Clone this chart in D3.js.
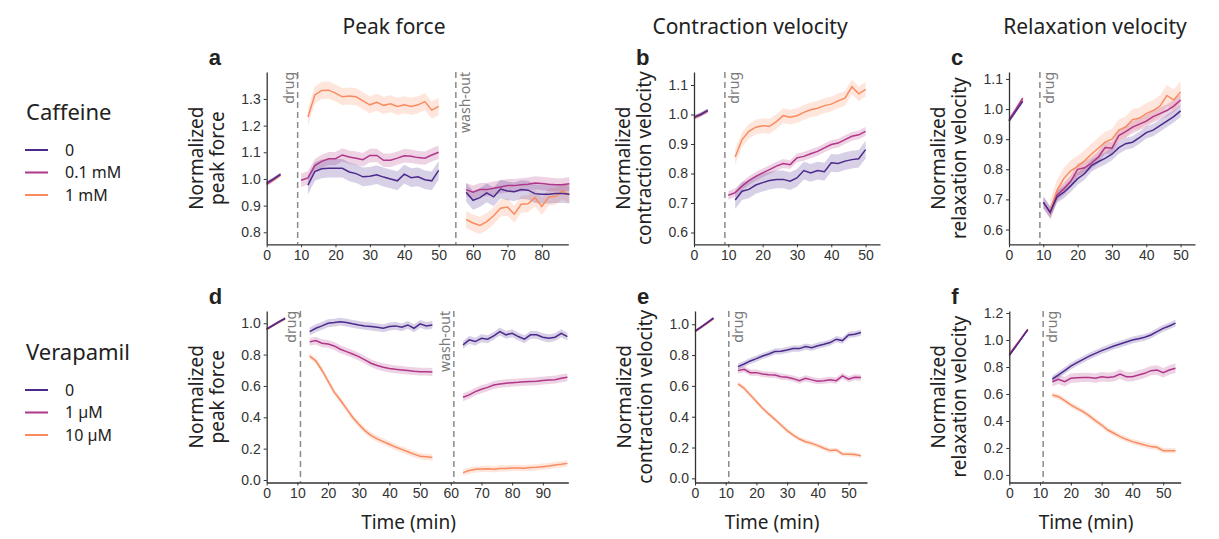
<!DOCTYPE html>
<html>
<head>
<meta charset="utf-8">
<script src="https://cdn.jsdelivr.net/npm/d3@7"></script>
<style>
    body { margin: 0; background: #fff; }
    text { fill: #222; }
</style>
</head>
<body>
<div id="chart"></div>
<script>
(function(d3) {
    'use strict';

    // series colours: 0, low dose, high dose
    var colors = ['#4b2a8c', '#b1368a', '#f98b60'];
    var cafLabels = ['0', '0.1 mM', '1 mM'];
    var verLabels = ['0', '1 µM', '10 µM'];

    // sample times (min)
    var cafBaseT = [0, 2, 4];
    var cafDrugT = [10, 12, 14, 16, 18, 20, 22, 24, 26, 28, 30, 32, 34, 36, 38, 40, 42, 44, 46, 48, 50];
    var cafWashT = [58, 60, 62, 64, 66, 68, 70, 72, 74, 76, 78, 80, 82, 84, 86, 88];
    var verBaseT = [0, 2, 4, 6];
    var verDrugT = [14, 16, 18, 20, 22, 24, 26, 28, 30, 32, 34, 36, 38, 40, 42, 44, 46, 48, 50, 52, 54];
    var verWashT = [64, 66, 68, 70, 72, 74, 76, 78, 80, 82, 84, 86, 88, 90, 92, 94, 96, 98];

    // a: peak force, caffeine   [0, 0.1 mM, 1 mM]
    var aBase = [
        [0.985, 1.0, 1.017],
        [0.98, 0.998, 1.016],
        [0.982, 0.996, 1.014]
    ];
    var aDrug = [
        [null, 0.977, 1.028, 1.038, 1.04, 1.04, 1.04, 1.026, 1.02, 1.008, 1.01, 1.016, 1.007, 1.0, 0.993, 1.018, 1.005, 1.008, 0.997, 0.993, 1.032],
        [0.995, 1.004, 1.05, 1.066, 1.076, 1.076, 1.09, 1.082, 1.078, 1.072, 1.088, 1.088, 1.07, 1.07, 1.078, 1.087, 1.085, 1.08, 1.078, 1.09, 1.1],
        [null, 1.232, 1.315, 1.332, 1.333, 1.322, 1.308, 1.311, 1.308, 1.293, 1.278, 1.287, 1.276, 1.282, 1.272, 1.278, 1.272, 1.278, 1.29, 1.258, 1.272]
    ];
    var aWash = [
        [0.95, 0.92, 0.93, 0.948, 0.933, 0.962, 0.955, 0.952, 0.96, 0.958, 0.945, 0.943, 0.943, 0.945, 0.945, 0.943],
        [0.96, 0.95, 0.96, 0.96, 0.965, 0.97, 0.975, 0.975, 0.978, 0.98, 0.985, 0.983, 0.98, 0.978, 0.978, 0.982],
        [0.848, 0.835, 0.826, 0.84, 0.862, 0.89, 0.895, 0.868, 0.905, 0.907, 0.93, 0.897, 0.932, 0.935, 0.955, 0.94]
    ];
    var aSem = [0.035, 0.025, 0.032];

    // b: contraction velocity, caffeine
    var bBase = [
        [0.99, 1.0, 1.014],
        [0.99, 1.001, 1.012],
        [0.988, 0.999, 1.012]
    ];
    var bDrug = [
        [null, 0.71, 0.74, 0.746, 0.761, 0.769, 0.776, 0.78, 0.78, 0.774, 0.785, 0.81, 0.802, 0.81, 0.806, 0.836, 0.834, 0.842, 0.847, 0.85, 0.881],
        [0.726, 0.735, 0.757, 0.776, 0.79, 0.802, 0.813, 0.825, 0.834, 0.83, 0.853, 0.858, 0.867, 0.875, 0.887, 0.898, 0.903, 0.915, 0.926, 0.931, 0.943],
        [null, 0.856, 0.915, 0.943, 0.957, 0.962, 0.96, 0.976, 0.996, 0.991, 0.996, 1.007, 1.016, 1.021, 1.03, 1.035, 1.046, 1.055, 1.094, 1.07, 1.085]
    ];
    var bSem = [0.03, 0.015, 0.025];

    // c: relaxation velocity, caffeine
    var cBase = [
        [0.96, 0.993, 1.026],
        [0.965, 1.0, 1.036],
        [0.962, 0.996, 1.03]
    ];
    var cDrug = [
        [0.69, 0.658, 0.708, 0.724, 0.745, 0.769, 0.785, 0.812, 0.825, 0.836, 0.85, 0.872, 0.885, 0.89, 0.905, 0.922, 0.93, 0.945, 0.96, 0.975, 0.994],
        [0.69, 0.655, 0.715, 0.735, 0.76, 0.8, 0.805, 0.82, 0.84, 0.872, 0.87, 0.912, 0.925, 0.94, 0.95, 0.96, 0.975, 0.985, 0.995, 1.01, 1.03],
        [null, 0.663, 0.73, 0.77, 0.795, 0.81, 0.828, 0.85, 0.87, 0.89, 0.9, 0.93, 0.94, 0.965, 0.97, 0.985, 0.995, 1.01, 1.045, 1.03, 1.057]
    ];
    var cSem = [0.02, 0.02, 0.035];

    // d: peak force, verapamil   [0, 1 µM, 10 µM]
    var dBase = [
        [0.962, 0.985, 1.008, 1.03],
        [0.964, 0.987, 1.01, 1.032],
        [0.96, 0.984, 1.006, 1.028]
    ];
    var dDrug = [
        [0.947, 0.968, 0.983, 1.0, 1.004, 1.01, 1.004, 0.996, 0.989, 0.983, 0.979, 0.974, 0.968, 0.979, 0.983, 0.974, 0.989, 0.968, 0.996, 0.983, 0.989],
        [0.881, 0.889, 0.872, 0.868, 0.855, 0.834, 0.819, 0.804, 0.787, 0.766, 0.745, 0.73, 0.719, 0.711, 0.706, 0.702, 0.698, 0.694, 0.691, 0.691, 0.689],
        [0.79, 0.76, 0.7, 0.63, 0.56, 0.51, 0.455, 0.4, 0.355, 0.315, 0.285, 0.262, 0.245, 0.228, 0.21, 0.195, 0.18, 0.165, 0.152, 0.148, 0.143]
    ];
    var dWash = [
        [0.862, 0.894, 0.883, 0.904, 0.898, 0.919, 0.947, 0.926, 0.936, 0.915, 0.898, 0.926, 0.926, 0.911, 0.904, 0.911, 0.936, 0.915],
        [0.528, 0.543, 0.564, 0.579, 0.591, 0.606, 0.613, 0.617, 0.621, 0.623, 0.626, 0.628, 0.63, 0.634, 0.638, 0.64, 0.649, 0.655],
        [0.047, 0.06, 0.068, 0.07, 0.072, 0.068, 0.074, 0.074, 0.077, 0.077, 0.075, 0.079, 0.081, 0.085, 0.089, 0.096, 0.1, 0.106]
    ];
    var dSem = [0.025, 0.025, 0.02];

    // e: contraction velocity, verapamil
    var eBase = [
        [0.955, 0.982, 1.01, 1.04],
        [0.955, 0.983, 1.011, 1.04],
        [0.95, 0.978, 1.005, 1.035]
    ];
    var eDrug = [
        [0.725, 0.742, 0.762, 0.777, 0.794, 0.807, 0.823, 0.825, 0.833, 0.842, 0.842, 0.855, 0.848, 0.861, 0.87, 0.881, 0.903, 0.894, 0.931, 0.935, 0.946],
        [0.699, 0.708, 0.686, 0.686, 0.677, 0.673, 0.671, 0.66, 0.656, 0.647, 0.634, 0.649, 0.639, 0.63, 0.634, 0.639, 0.634, 0.665, 0.643, 0.656, 0.654],
        [0.613, 0.584, 0.541, 0.498, 0.455, 0.418, 0.383, 0.346, 0.31, 0.281, 0.255, 0.238, 0.227, 0.212, 0.195, 0.18, 0.184, 0.158, 0.156, 0.154, 0.147]
    ];
    var eSem = [0.02, 0.02, 0.015];

    // f: relaxation velocity, verapamil
    var fBase = [
        [0.885, 0.948, 1.012, 1.075],
        [0.89, 0.952, 1.015, 1.078],
        [0.9, 0.958, 1.018, 1.08]
    ];
    var fDrug = [
        [0.711, 0.741, 0.773, 0.807, 0.832, 0.857, 0.881, 0.901, 0.921, 0.938, 0.956, 0.97, 0.985, 1.0, 1.01, 1.02, 1.037, 1.062, 1.086, 1.104, 1.125],
        [0.691, 0.709, 0.691, 0.716, 0.721, 0.723, 0.723, 0.716, 0.728, 0.723, 0.728, 0.748, 0.728, 0.728, 0.741, 0.753, 0.773, 0.778, 0.758, 0.778, 0.79],
        [0.593, 0.58, 0.551, 0.519, 0.494, 0.469, 0.437, 0.402, 0.37, 0.333, 0.309, 0.284, 0.264, 0.247, 0.235, 0.222, 0.21, 0.205, 0.18, 0.18, 0.18]
    ];
    var fSem = [0.025, 0.035, 0.02];

    var baseSem = 0.007;

    var cafYTicks = [0.6, 0.7, 0.8, 0.9, 1.0, 1.1];
    var peakCafYTicks = [0.8, 0.9, 1.0, 1.1, 1.2, 1.3];
    var verYTicks = [0.0, 0.2, 0.4, 0.6, 0.8, 1.0];
    var relVerYTicks = [0.0, 0.2, 0.4, 0.6, 0.8, 1.0, 1.2];

    var panels = [
        { letter: 'a', left: 266.7, right: 568.3, top: 72, bottom: 244.3, xMax: 87.7, yDomain: [0.755, 1.401],
          yTicks: peakCafYTicks, xTicks: [0, 10, 20, 30, 40, 50, 60, 70, 80], title: 'peak force',
          segments: [[cafBaseT, aBase, baseSem], [cafDrugT, aDrug, aSem], [cafWashT, aWash, aSem]],
          marks: [{ t: 9, label: 'drug', side: 'left' }, { t: 55, label: 'wash-out', side: 'right' }] },
        { letter: 'b', left: 694, right: 880, top: 72, bottom: 244.3, xMax: 54.2, yDomain: [0.56, 1.144],
          yTicks: cafYTicks, xTicks: [0, 10, 20, 30, 40, 50], title: 'contraction velocity',
          segments: [[cafBaseT, bBase, baseSem], [cafDrugT, bDrug, bSem]],
          marks: [{ t: 9, label: 'drug', side: 'right' }] },
        { letter: 'c', left: 1009, right: 1195, top: 72, bottom: 244.3, xMax: 54.2, yDomain: [0.551, 1.123],
          yTicks: cafYTicks, xTicks: [0, 10, 20, 30, 40, 50], title: 'relaxation velocity',
          segments: [[cafBaseT, cBase, baseSem], [cafDrugT, cDrug, cSem]],
          marks: [{ t: 9, label: 'drug', side: 'right' }] },
        { letter: 'd', left: 266.7, right: 568.3, top: 311, bottom: 482.5, xMax: 98.3, yDomain: [-0.016, 1.078],
          yTicks: verYTicks, xTicks: [0, 10, 20, 30, 40, 50, 60, 70, 80, 90], title: 'peak force', timeLabel: true,
          segments: [[verBaseT, dBase, baseSem], [verDrugT, dDrug, dSem], [verWashT, dWash, dSem]],
          marks: [{ t: 11, label: 'drug', side: 'left' }, { t: 61, label: 'wash-out', side: 'left' }] },
        { letter: 'e', left: 695, right: 867, top: 311, bottom: 482.5, xMax: 56, yDomain: [-0.027, 1.086],
          yTicks: verYTicks, xTicks: [0, 10, 20, 30, 40, 50], title: 'contraction velocity', timeLabel: true,
          segments: [[verBaseT, eBase, baseSem], [verDrugT, eDrug, eSem]],
          marks: [{ t: 11, label: 'drug', side: 'right' }] },
        { letter: 'f', left: 1009.3, right: 1180.7, top: 311, bottom: 482.5, xMax: 55.7, yDomain: [-0.056, 1.215],
          yTicks: relVerYTicks, xTicks: [0, 10, 20, 30, 40, 50], title: 'relaxation velocity', timeLabel: true,
          segments: [[verBaseT, fBase, baseSem], [verDrugT, fDrug, fSem]],
          marks: [{ t: 11, label: 'drug', side: 'right' }] }
    ];

    var svg = d3.select('#chart').append('svg')
        .attr('width', 1219)
        .attr('height', 539)
        .style('font-family', '"Noto Sans", sans-serif');

    // column headings
    [['Peak force', 394], ['Contraction velocity', 750], ['Relaxation velocity', 1095]].forEach(function(h) {
        svg.append('text')
            .attr('x', h[1])
            .attr('y', 34)
            .attr('text-anchor', 'middle')
            .style('font-size', '21px')
            .text(h[0]);
    });

    panels.forEach(drawPanel);

    drawLegend('Caffeine', cafLabels, 120, [150, 172.5, 195]);
    drawLegend('Verapamil', verLabels, 360, [390, 412.5, 435]);

    function drawPanel(p) {
        var x = d3.scaleLinear().domain([0, p.xMax]).range([p.left, p.right]);
        var y = d3.scaleLinear().domain(p.yDomain).range([p.bottom, p.top]);
        var g = svg.append('g');

        // bands first, lines on top
        var bands = g.append('g');
        var lines = g.append('g');

        p.segments.forEach(function(seg) {
            var times = seg[0];
            var sem = seg[2];
            // high dose drawn first so the control ends up on top
            [2, 1, 0].forEach(function(i) {
                var vals = seg[1][i];
                var s = Array.isArray(sem) ? sem[i] : sem;
                var pts = times.map(function(t, k) {
                    return { t: t, v: vals[k] };
                }).filter(function(d) { return d.v !== null; });

                var area = d3.area()
                    .x(function(d) { return x(d.t); })
                    .y0(function(d) { return y(d.v - s); })
                    .y1(function(d) { return y(d.v + s); });

                var line = d3.line()
                    .x(function(d) { return x(d.t); })
                    .y(function(d) { return y(d.v); });

                bands.append('path')
                    .attr('d', area(pts))
                    .attr('fill', colors[i])
                    .attr('fill-opacity', 0.22);

                lines.append('path')
                    .attr('d', line(pts))
                    .attr('fill', 'none')
                    .attr('stroke', colors[i])
                    .attr('stroke-width', 1.5);
            });
        });

        // drug / wash-out markers
        p.marks.forEach(function(m) {
            var mx = x(m.t);
            g.append('line')
                .attr('x1', mx).attr('x2', mx)
                .attr('y1', p.top).attr('y2', p.bottom)
                .attr('stroke', '#8a8a8a')
                .attr('stroke-width', 1.5)
                .attr('stroke-dasharray', '6,4');

            var tx = m.side === 'left' ? mx - 4 : mx + 14;
            g.append('text')
                .attr('transform', 'translate(' + tx + ',' + p.top + ') rotate(-90)')
                .attr('text-anchor', 'end')
                .style('font-size', '14px')
                .style('fill', '#7a7a7a')
                .text(m.label);
        });

        var xAxis = g.append('g')
            .attr('transform', 'translate(0,' + p.bottom + ')')
            .call(d3.axisBottom(x).tickValues(p.xTicks).tickSize(3).tickSizeOuter(0).tickPadding(3));

        var yAxis = g.append('g')
            .attr('transform', 'translate(' + p.left + ',0)')
            .call(d3.axisLeft(y).tickValues(p.yTicks).tickFormat(d3.format('.1f')).tickSize(3).tickSizeOuter(0).tickPadding(3));

        [xAxis, yAxis].forEach(function(ax) {
            ax.select('.domain').attr('stroke', '#333').attr('stroke-width', 1.3);
            ax.selectAll('.tick line').attr('stroke', '#333');
            ax.selectAll('.tick text')
                .style('font-family', '"Liberation Sans", Arial, sans-serif')
                .style('font-size', '14px')
                .style('fill', '#333');
        });

        // y title, two lines
        var midY = (p.top + p.bottom) / 2;
        [['Normalized', 64], [p.title, 43]].forEach(function(l) {
            svg.append('text')
                .attr('transform', 'translate(' + (p.left - l[1]) + ',' + midY + ') rotate(-90)')
                .attr('text-anchor', 'middle')
                .style('font-size', '19px')
                .text(l[0]);
        });

        if (p.timeLabel) {
            svg.append('text')
                .attr('x', (p.left + p.right) / 2 - 9)
                .attr('y', 529)
                .attr('text-anchor', 'middle')
                .style('font-size', '19px')
                .text('Time (min)');
        }

        svg.append('text')
            .attr('x', p.left - 58)
            .attr('y', p.top - 7)
            .style('font-family', '"Liberation Sans", Arial, sans-serif')
            .style('font-weight', 'bold')
            .style('font-size', '22px')
            .text(p.letter);
    }

    function drawLegend(title, labels, titleY, rows) {
        var lg = svg.append('g');
        lg.append('text')
            .attr('x', 26)
            .attr('y', titleY)
            .style('font-size', '22px')
            .text(title);

        labels.forEach(function(lab, i) {
            lg.append('line')
                .attr('x1', 25).attr('x2', 48)
                .attr('y1', rows[i]).attr('y2', rows[i])
                .attr('stroke', colors[i])
                .attr('stroke-width', 2);
            lg.append('text')
                .attr('x', 65)
                .attr('y', rows[i])
                .attr('dy', '0.35em')
                .style('font-size', '16px')
                .text(lab);
        });
    }

})(window.d3);
</script>
</body>
</html>
